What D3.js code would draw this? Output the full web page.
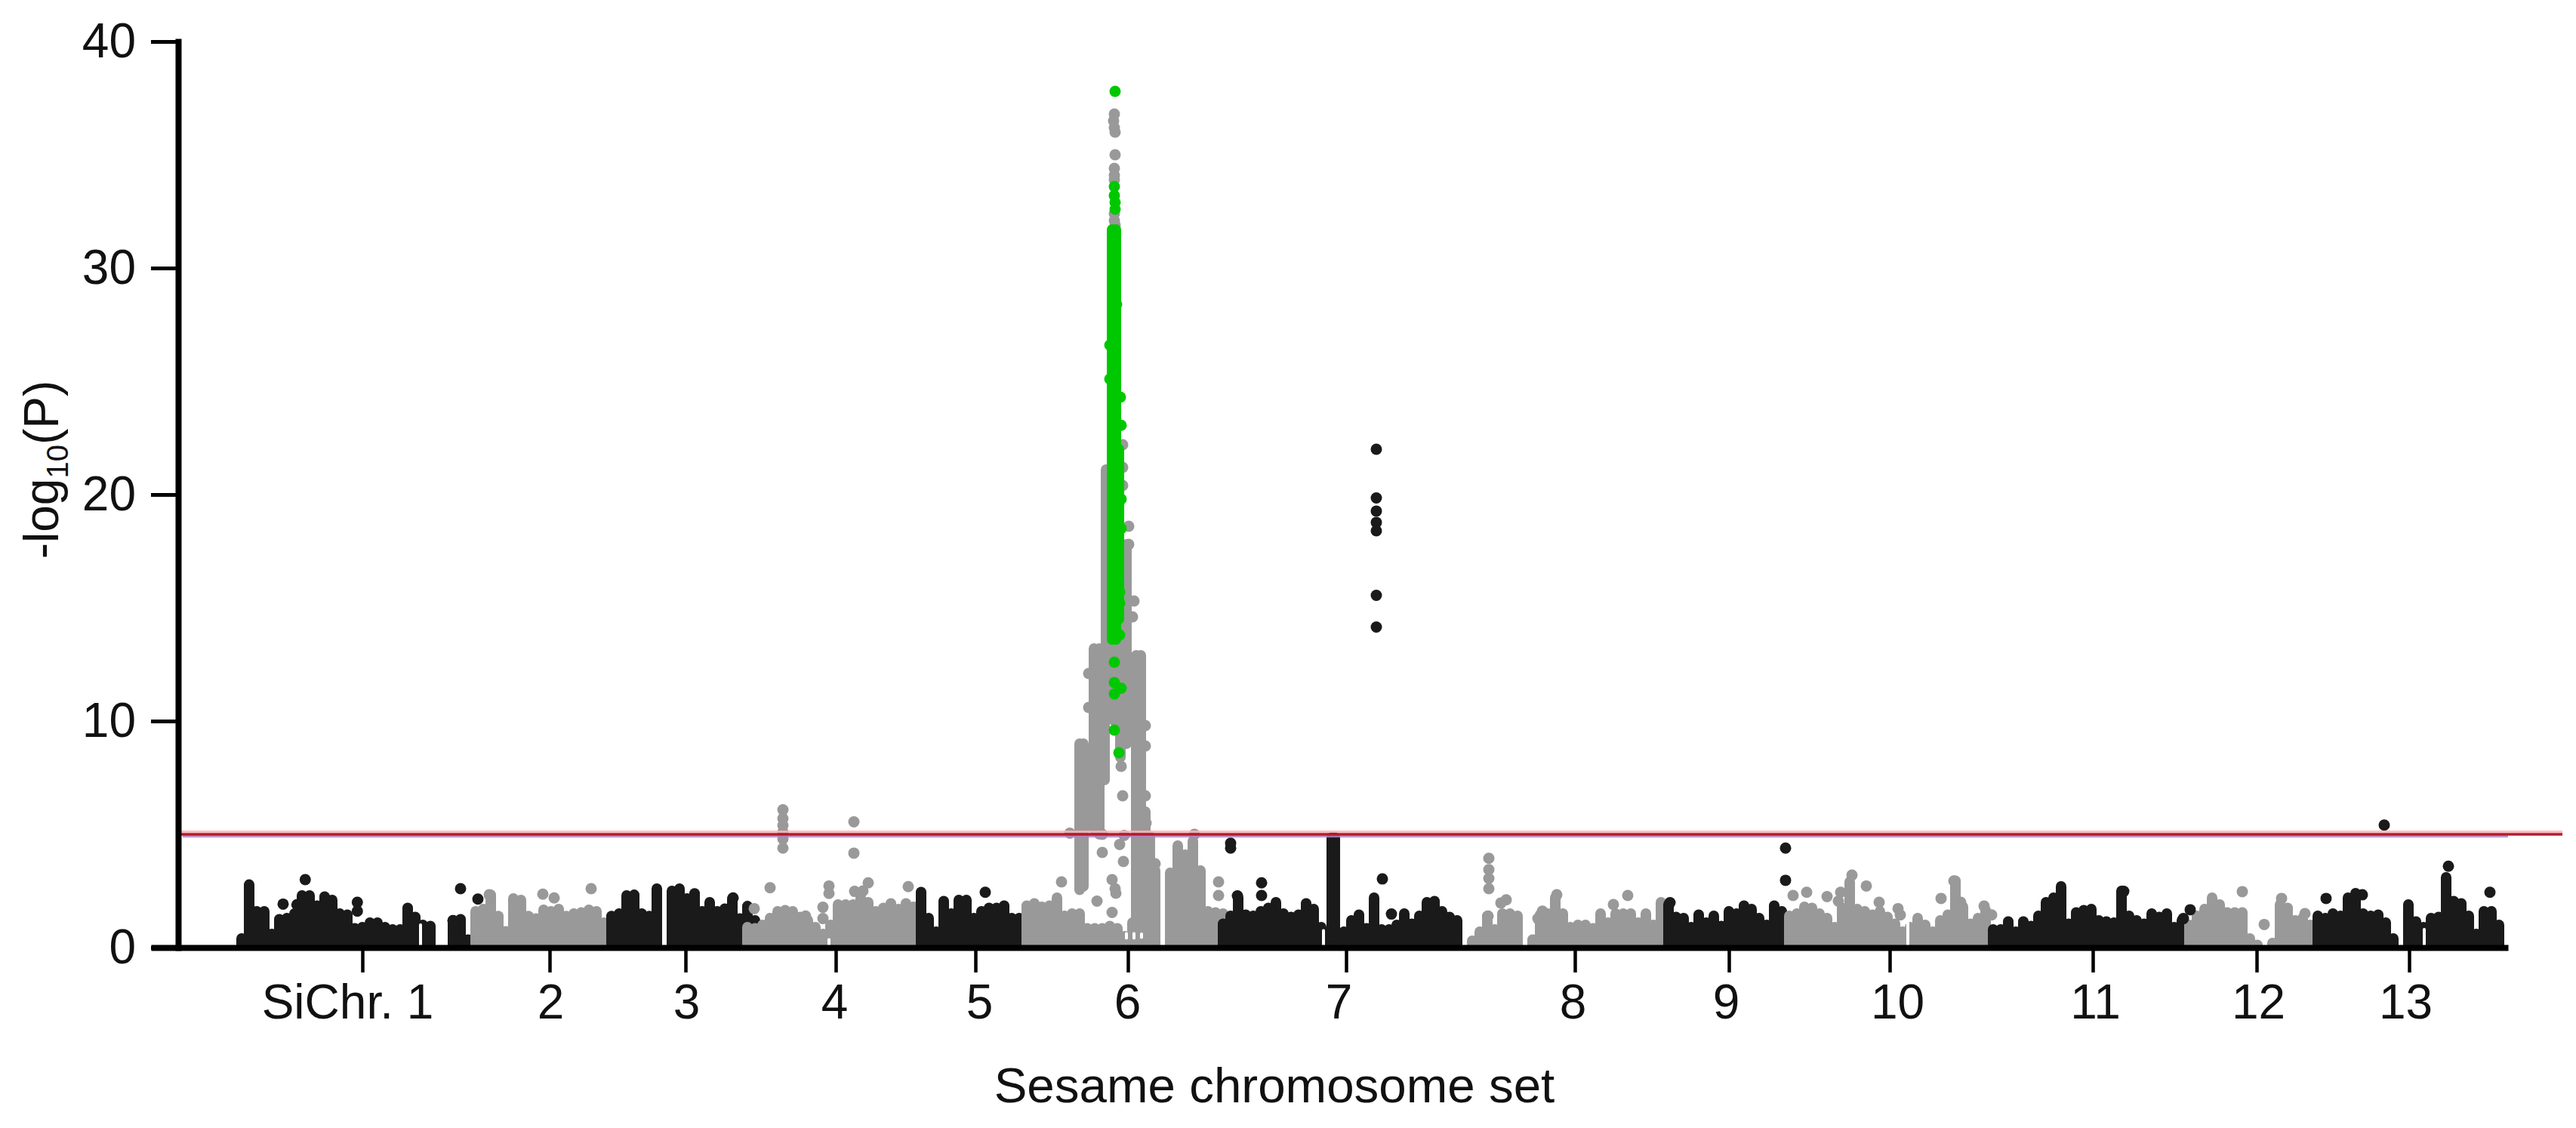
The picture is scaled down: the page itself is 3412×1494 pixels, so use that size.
<!DOCTYPE html>
<html>
<head>
<meta charset="utf-8">
<title>Sesame GWAS</title>
<script src="https://cdn.jsdelivr.net/npm/d3@7"></script>
<style>
  html, body { margin: 0; background: #fff; }
  text { font-family: "Liberation Sans", Arial, sans-serif; fill: #111; }
</style>
</head>
<body>
<div class="chart"></div>
<script>
// Chromosome axis labels and where their ticks sit (genome position units)
var chrLabels = ["SiChr. 1", "2", "3", "4", "5", "6", "7", "8", "9", "10", "11", "12", "13"];
var chrTicks = [16, 40.8, 58.8, 78.7, 97.2, 117.4, 146.3, 176.6, 197, 218.3, 245.2, 266.9, 287.1];
var yTicks = [0, 10, 20, 30, 40];
var threshold = 5;

// Top of the dense dot cloud per chromosome, one value per position unit from chrStarts
var chrStarts = [0, 31, 49, 67, 90, 104, 130, 163, 189, 205, 232, 258, 275];
var chr1Top = [.4, 2.78, 1.6, 1.6, .6, 1.25, 1.3, 1.5, 2.3, 2.3, 1.85, 2.25, 2.1, 1.5, 1.45, .85, .9, 1.1, 1.1, .9, .8, .8, 1.75, 1.35, 1, .95, 0, 0, 1.2, 1.25, .35];
var chr2Top = [1.6, 1.7, 2.33, 1.39, .72, 2.17, 2.1, 1.39, 1.28, 1.67, 1.6, 1.7, 1.39, 1.5, 1.55, 1.67, 1.6, 1.1];
var chr3Top = [1.39, 1.5, 2.3, 2.33, 1.5, 1.39, 2.6, 0, 2.5, 2.6, 2.17, 2.39, 1.6, 2, 1.6, 1.72, 2.17, 1.28, 1.83, 1.2];
var chr4Top = [.9, .85, 1, 1.3, 1.6, 1.65, 1.6, 1.35, 1.2, .9, .6, 1, 1.9, 1.9, 1.9, 2.2, 2, 1.6, 1.75, 1.95, 1.7, 1.95, 1.8];
var chr5Top = [2.45, 1.3, .7, 2.05, 1.5, 2.1, 2.1, 1.3, 1.6, 1.75, 1.75, 1.85, 1.3, 1.3];
var chr6Top = [1.85, 1.95, 1.8, 1.85, 2.2, 1.4, 1.5, 1.5, .85, .85, .85, .95, .85, .5, 1.1, 1.1, 1, 1, 0, 3.3, 4.5, 4.1, 4.7, 3.4, 1.6, 1.55, 1.5];
var chr7Top = [1.05, 1.4, 2.2, 1.45, 1.4, 1.6, 1.75, 2, 1.5, 1.35, 1.45, 1.95, 1.7, .9, .7, .7, .7, 1.2, 1.45, .85, 2.2, .8, .8, 1, 1.5, 1.05, 1.4, 2, 2.05, 1.6, 1.35, 1.2];
var chr8Top = [.3, .7, 1.39, .8, 1.5, 1.5, 1.4, 0, .35, 1.45, 1.5, 2.2, 1.5, .9, 1, 1, .85, 1.5, 1.1, 1.5, 1.5, 1.5, 1.1, 1.5, 1, 2];
var chr9Top = [1.9, 1.35, 1.3, .9, 1.45, 1.1, 1.4, .95, 1.6, 1.5, 1.85, 1.7, 1.3, 1, 1.85, 1.6];
var chr10Top = [1.4, 1.5, 1.8, 1.75, 1.5, 1.3, .9, 1.75, 2.9, 1.7, 1.6, 1.45, 1.6, 1.35, 1.05, .7, .9, 1.3, 1, .7, 1.2, 1.45, 2.95, 1.8, 1.05, 1.3, 1.65];
var chr11Top = [.8, .8, 1.15, .7, 1.15, .95, 1.4, 2, 2.2, 2.7, 1.05, 1.55, 1.65, 1.7, 1.2, 1.15, 1.1, 2.5, 1.4, 1.2, 1.05, 1.5, 1.35, 1.5, .9, 1.2];
var chr12Top = [1, 1.4, 1.7, 2.2, 1.9, 1.55, 1.55, 1.55, .4, .1, 0, .2, 1.9, 1.75, 1.2, 1.3, 1];
var chr13Top = [1.4, 1.3, 1.5, 1.4, 2.2, 2.4, 1.5, 1.4, 1.45, 1.1, .4, 0, 1.9, 1.15, .9, 1.3, 1.35, 3.1, 2.05, 1.95, 1.4, .6, 1.6, 1.6, 1];
var chrTops = [chr1Top, chr2Top, chr3Top, chr4Top, chr5Top, chr6Top, chr7Top, chr8Top, chr9Top, chr10Top, chr11Top, chr12Top, chr13Top];

// Tall stacks of overlapping dots: [position, lowest value, highest value]
var greyStacks = [
  [114.5, 13, 21.1], [117.2, 9, 17.8], [116.4, 8.4, 13.5], [115.6, 10, 13.4],
  [112.9, 5.2, 13.2], [113.6, 5, 13.2], [114.3, 7.4, 13.2],
  [111, 2.55, 9], [111.5, 2.7, 9],
  [118.5, 1, 12.9], [119.1, 1, 12.9], [119.7, 1, 6], [120.3, 1, 4.9], [120.7, 1, 3.4], [121, 1, 3.4]
];
var blackStacks = [[144.4, .5, 4.85], [144.8, .5, 4.85]];
var greenStacks = [[115.3, 13.6, 31.7], [115.8, 13.6, 31.7], [116.2, 14.5, 22]];

// Thin runs where the cloud has no dots at all: [position, lowest value, highest value]
var emptyRuns = [
  [23.7, .1, 1], [77.8, .1, .35], [143.3, .1, .75], [220.7, .1, 1.2], [289.1, .1, .8],
  [117.2, .42, .62], [118.2, .42, .62], [119.2, .45, .6]
];

// Points that stand clear of the cloud: [position, value]
var greyPoints = [
  [32.8, 2.33], [39.9, 2.36], [41.4, 2.19], [46.3, 2.6],
  [67.9, 1.72], [70, 2.64], [74.7, 1.39], [77, 1.78], [77, 1.28], [77.8, 2.72], [77.8, 2.39],
  [81.2, 2.48], [82.3, 2.5], [83, 2.86], [88.3, 2.69],
  [71.7, 6.08], [71.7, 5.7], [71.7, 5.4], [71.7, 5.1], [71.7, 4.8], [71.7, 4.39], [81.1, 5.55], [81.1, 4.17],
  [115.6, 36.8], [115.5, 36.5], [115.6, 36.2], [115.7, 36], [115.7, 35], [115.6, 34.4], [115.6, 34.1], [115.6, 33.9],
  [115.6, 32.4], [115.6, 32.1], [115.7, 31.9],
  [116.7, 22.2], [116.7, 21.2], [116.7, 20.4], [117.5, 18.6], [117.5, 17.8], [118.2, 15.3], [118, 14.6],
  [112.2, 12.1], [112.2, 10.6], [119.7, 9.8], [119.7, 8.9], [119.7, 6.7], [119.8, 5.5],
  [116.5, 8], [116.7, 6.7],
  [108.6, 2.9], [109.7, 5.05], [113.3, 2.05], [114, 4.2], [114, 5], [115.3, 3], [115.7, 2.6], [115.8, 2.4], [115.3, 1.55],
  [116.3, 4.55], [116.9, 4.95], [116.8, 3.8], [121, 3.7], [126.2, 5], [129.4, 2.9], [129.4, 2.3],
  [165.2, 3.94], [165.2, 3.44], [165.2, 3.05], [165.2, 2.6], [165.1, 1.39], [166.8, 1.97], [167.5, 2.11],
  [171.7, 1.28], [172.3, 1.61], [174.2, 2.33], [181.7, 1.9], [183.6, 2.3],
  [205.5, 2.3], [207.3, 2.44], [210, 2.25], [211.5, 2.05], [211.8, 2.44], [213.3, 3.2], [215.2, 2.72], [216.9, 2],
  [219.4, 1.72], [219.7, 1.44], [225.1, 2.17], [226.8, 2.94], [227.7, 2], [230.8, 1.83], [231.8, 1.44],
  [265, 2.47], [267.9, 1.02], [270.2, 2.17], [273.3, 1.5]
];
var blackPoints = [
  [5.5, 1.92], [7.33, 1.89], [8.43, 3], [11.2, 2.03], [15.33, 2], [15.33, 1.61], [28, 1.19], [29, 2.6], [31.3, 2.14],
  [65.1, 2.19], [98.5, 2.44],
  [131, 4.61], [131, 4.39], [131.9, 2.28], [135.1, 2.86], [135.1, 2.3],
  [150.3, 22], [150.3, 19.85], [150.3, 19.27], [150.3, 18.77], [150.3, 18.4], [150.3, 15.55], [150.3, 14.15],
  [151.1, 3.03], [152.3, 1.48], [189.2, 1.98], [204.5, 4.39], [204.5, 2.97],
  [249.3, 2.48], [257.2, 1.28], [258.1, 1.67], [276.1, 2.17], [280.9, 2.33], [283.8, 5.41], [292.3, 3.59], [297.8, 2.44]
];
var greenPoints = [
  [115.7, 37.8], [115.6, 33.6], [115.6, 33.2], [115.7, 32.9], [115.7, 32.6],
  [115, 26.6], [115, 25.1], [116.4, 24.3], [115.9, 28.4],
  [116.5, 23.06], [116.5, 19.8], [116.5, 18.5], [116.3, 15.7], [116.3, 15.2], [116.3, 13.8],
  [115.6, 12.6], [115.6, 11.7], [115.6, 11.2], [116.5, 11.45], [115.6, 9.6], [116.2, 8.6]
];

// Layout
var svgWidth = 3412;
var svgHeight = 1494;
var black = "#1a1a1a";
var grey = "#999999";
var green = "#00c800";
var dotWidth = 14;

var svg = d3.select(".chart")
  .append("svg")
  .attr("width", svgWidth)
  .attr("height", svgHeight)
  .style("display", "block");

var xScale = d3.scaleLinear().domain([-12, 300.2]).range([200, 3322]);
var yScale = d3.scaleLinear().domain([0, 40]).range([1255, 55]);

// Draws vertical runs of overlapping dots as round capped strokes
function drawStacks(stacks, color, strokeWidth) {
  svg.append("g")
    .selectAll("line")
    .data(stacks)
    .enter()
    .append("line")
    .attr("x1", d => xScale(d[0]))
    .attr("x2", d => xScale(d[0]))
    .attr("y1", d => yScale(d[1]))
    .attr("y2", d => yScale(d[2]))
    .attr("stroke", color)
    .attr("stroke-width", strokeWidth)
    .attr("stroke-linecap", "round");
}

function drawPoints(points, color) {
  svg.append("g")
    .selectAll("circle")
    .data(points)
    .enter()
    .append("circle")
    .attr("cx", d => xScale(d[0]))
    .attr("cy", d => yScale(d[1]))
    .attr("r", 7.5)
    .attr("fill", color);
}

// Chromosome clouds, black and grey in turn
chrTops.forEach((tops, i) => {
  var stacks = tops
    .map((top, j) => [chrStarts[i] + j, 0.12, top])
    .filter(d => d[2] > 0);
  drawStacks(stacks, i % 2 === 0 ? black : grey, dotWidth);
});

drawStacks(greyStacks, grey, dotWidth);
drawStacks(blackStacks, black, dotWidth);
drawStacks(emptyRuns, "#fff", 4);
drawPoints(greyPoints, grey);
drawPoints(blackPoints, black);
drawStacks(greenStacks, green, dotWidth);
drawPoints(greenPoints, green);

// Threshold line, printed with three slightly offset layers in the source
var lineY = yScale(threshold);
svg.append("line")
  .attr("x1", 238).attr("x2", 3394)
  .attr("y1", lineY - 3.5).attr("y2", lineY - 3.5)
  .attr("stroke", "#ffb4b4").attr("stroke-width", 3).attr("opacity", 0.85);
svg.append("line")
  .attr("x1", 242).attr("x2", 3322)
  .attr("y1", lineY + 2.5).attr("y2", lineY + 2.5)
  .attr("stroke", "#b87fc0").attr("stroke-width", 3.5).attr("opacity", 0.85);
svg.append("line")
  .attr("x1", 238).attr("x2", 3394)
  .attr("y1", lineY).attr("y2", lineY)
  .attr("stroke", "#b01c30").attr("stroke-width", 3.5);

// Axes
var labelNudge = [-20, 1, 1, -2, 5, -1, -10, -3, -4, 10, 3, 2, -5];

var bottomAxis = d3.axisBottom(xScale)
  .tickValues(chrTicks)
  .tickFormat((d, i) => chrLabels[i])
  .tickSizeInner(33)
  .tickSizeOuter(0)
  .tickPadding(16);

var xAxis = svg.append("g")
  .attr("transform", `translate(0, ${yScale(0)})`)
  .call(bottomAxis);

xAxis.select(".domain").attr("stroke", "#000").attr("stroke-width", 8);
xAxis.selectAll(".tick line").attr("stroke", "#000").attr("stroke-width", 4.5);
xAxis.selectAll(".tick text")
  .attr("font-size", 64)
  .attr("font-family", null)
  .attr("dx", (d, i) => labelNudge[i]);

var leftAxis = d3.axisLeft(yScale)
  .tickValues(yTicks)
  .tickSizeInner(36)
  .tickSizeOuter(0)
  .tickPadding(20);

var yAxis = svg.append("g")
  .attr("transform", `translate(${xScale(-8.4)}, 0)`)
  .call(leftAxis);

yAxis.select(".domain").attr("stroke", "#000").attr("stroke-width", 8).attr("stroke-linecap", "square");
yAxis.selectAll(".tick line").attr("stroke", "#000").attr("stroke-width", 5);
yAxis.selectAll(".tick text")
  .attr("font-size", 64)
  .attr("font-family", null);

// Axis titles
svg.append("text")
  .attr("x", 1688)
  .attr("y", 1460)
  .attr("text-anchor", "middle")
  .attr("font-size", 65.5)
  .text("Sesame chromosome set");

var yTitle = svg.append("text")
  .attr("transform", "translate(77, 622) rotate(-90)")
  .attr("text-anchor", "middle")
  .attr("font-size", 64);
yTitle.append("tspan").text("-log");
yTitle.append("tspan").attr("font-size", 40).attr("dy", 13).text("10");
yTitle.append("tspan").attr("dy", -13).text("(P)");
</script>
</body>
</html>
